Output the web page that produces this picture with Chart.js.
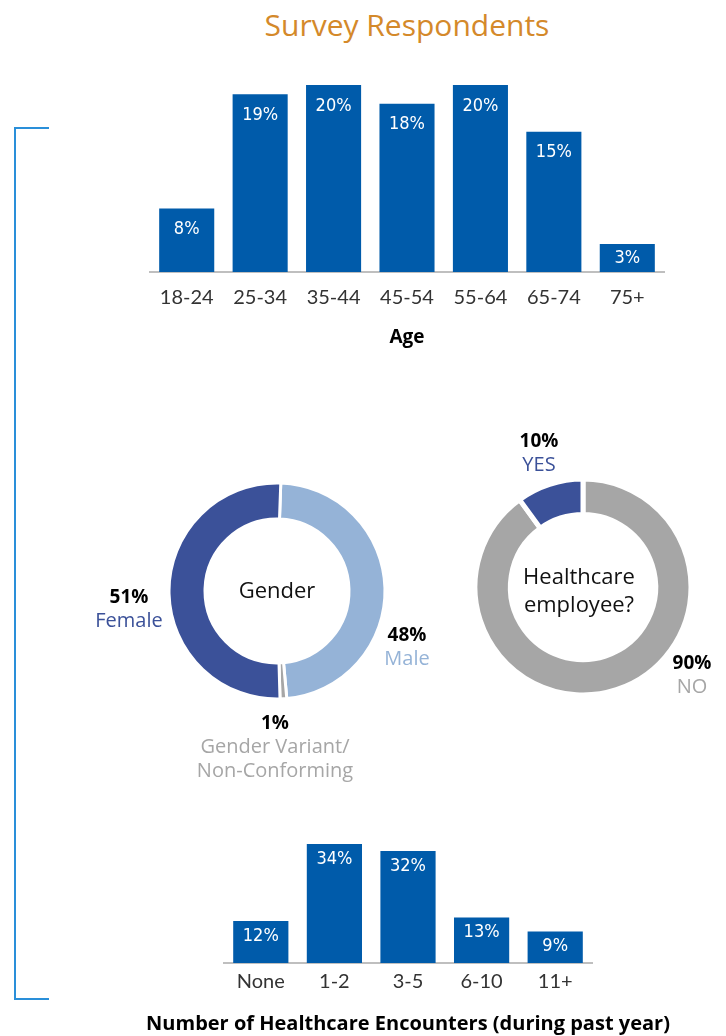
<!DOCTYPE html>
<html>
<head>
<meta charset="utf-8">
<script src="https://cdn.jsdelivr.net/npm/chart.js@4.4.1/dist/chart.umd.min.js"></script>
<style>
  body { margin: 0; background: #fff; }
  #page { position: relative; width: 726px; height: 1036px; overflow: hidden; font-family: "Open Sans", sans-serif; }
  .abs { position: absolute; }
  #title { left: 0; width: 814px; top: 4px; text-align: center; font-size: 30px; color: #D4892A; }
  #bracket { left: 14px; top: 127px; width: 33px; height: 869px; border: 2px solid #2A8FD9; border-right: none; }
  .lbl { text-align: center; font-size: 20px; line-height: 24px; white-space: nowrap; transform: translateX(-50%); }
  .lbl b { color: #000; font-weight: 700; font-size: 19px; }
  .center { text-align: center; font-size: 22px; line-height: 28px; color: #111; transform: translate(-50%, -50%); white-space: nowrap; }
</style>
</head>
<body>
<div id="page">
  <div id="title" class="abs">Survey Respondents</div>
  <div id="bracket" class="abs"></div>

  <canvas id="ageChart" class="abs" width="614" height="277" style="left:100px;top:75px"></canvas>
  <canvas id="genderChart" class="abs" width="240" height="240" style="left:157px;top:471px"></canvas>
  <canvas id="hcChart" class="abs" width="240" height="240" style="left:463px;top:467px"></canvas>
  <canvas id="encChart" class="abs" width="616" height="202" style="left:100px;top:834px"></canvas>

  <div class="center abs" style="left:277px;top:589px">Gender</div>
  <div class="center abs" style="left:579px;top:589px">Healthcare<br>employee?</div>

  <div id="lblFemale" class="lbl abs" style="left:129px;top:584px;line-height:23px;color:#3B5199"></div>
  <div id="lblMale" class="lbl abs" style="left:407px;top:622px;color:#95B3D7"></div>
  <div id="lblVariant" class="lbl abs" style="left:275px;top:710px;color:#A6A6A6"></div>
  <div id="lblYes" class="lbl abs" style="left:539px;top:428px;color:#3B5199"></div>
  <div id="lblNo" class="lbl abs" style="left:692px;top:650px;color:#A6A6A6"></div>
</div>

<script>
// Age distribution
const ageGroups = ['18-24', '25-34', '35-44', '45-54', '55-64', '65-74', '75+'];
const ageValues = [6.8, 19, 20, 18, 20, 15, 3];      // bar heights as drawn
const ageText   = ['8%', '19%', '20%', '18%', '20%', '15%', '3%'];

// Gender
const genderLabels = ['Male', 'Gender Variant/\nNon-Conforming', 'Female'];
const genderValues = [48, 1, 51];

// Healthcare employee?
const hcLabels = ['NO', 'YES'];
const hcValues = [90, 10];

// Healthcare encounters in past year
const encGroups = ['None', '1-2', '3-5', '6-10', '11+'];
const encValues = [12, 34, 32, 13, 9];

const BLUE = '#005BAA';

// white % labels near the top of each bar, plus an unclipped axis caption
const barText = {
  id: 'barText',
  afterDraw(chart, args, opts) {
    const ctx = chart.ctx;
    const meta = chart.getDatasetMeta(0);
    ctx.save();
    ctx.fillStyle = '#fff';
    ctx.font = '18px "Liberation Sans Narrow", "DejaVu Sans Condensed", sans-serif';
    ctx.textAlign = 'center';
    ctx.textBaseline = 'middle';
    meta.data.forEach((bar, i) => {
      const y = Math.min(bar.y + opts.offset, (bar.y + bar.base) / 2);
      ctx.fillText(opts.text[i], bar.x, y);
    });
    if (opts.caption) {
      ctx.fillStyle = '#000';
      ctx.font = opts.captionFont;
      ctx.fillText(opts.caption, chart.width / 2, chart.height - opts.captionBottom);
    }
    ctx.restore();
  }
};

function barChart(id, labels, values, text, maxY, offset, pad, axisH, tickPad, caption) {
  return new Chart(document.getElementById(id), {
    type: 'bar',
    data: {
      labels: labels,
      datasets: [{ data: values, backgroundColor: BLUE, barPercentage: 0.75, categoryPercentage: 1 }]
    },
    options: {
      responsive: false,
      animation: false,
      layout: { padding: pad },
      plugins: {
        legend: { display: false },
        tooltip: { enabled: false },
        barText: Object.assign({ text: text, offset: offset }, caption)
      },
      scales: {
        y: { display: false, min: 0, max: maxY },
        x: {
          grid: { display: false, drawTicks: false },
          border: { display: true, color: '#BFBFBF', width: 2 },
          ticks: { color: '#333', padding: tickPad, font: { family: 'Lato', size: 20 } },
          afterFit(scale) { scale.height = axisH; }
        }
      }
    },
    plugins: [barText]
  });
}

barChart('ageChart', ageGroups, ageValues, ageText, 20, 21,
  { left: 50, right: 50, top: 10, bottom: 0 }, 80, 14,
  { caption: 'Age', captionFont: 'bold 19px "Open Sans"', captionBottom: 14 });

barChart('encChart', encGroups, encValues, encValues.map(v => v + '%'), 34, 15,
  { left: 124, right: 124, top: 10, bottom: 0 }, 73, 7,
  { caption: 'Number of Healthcare Encounters (during past year)', captionFont: 'bold 20px "Open Sans"', captionBottom: 12 });

function donut(id, labels, values, colors, rotation, border) {
  return new Chart(document.getElementById(id), {
    type: 'doughnut',
    data: {
      labels: labels,
      datasets: [{ data: values, backgroundColor: colors, borderColor: '#fff', borderWidth: border }]
    },
    options: {
      responsive: false,
      animation: false,
      radius: 108,
      cutout: 79,
      rotation: rotation,
      plugins: { legend: { display: false }, tooltip: { enabled: false } }
    }
  });
}

donut('genderChart', genderLabels, genderValues, ['#95B3D7', '#A6A6A6', '#3B5199'], 2, 3);
donut('hcChart', hcLabels, hcValues, ['#A6A6A6', '#3B5199'], 0, 5);

// outside labels for the doughnuts
function setLabel(id, value, name) {
  document.getElementById(id).innerHTML = '<b>' + value + '%</b><br>' + name.replace('\n', '<br>');
}
setLabel('lblMale', genderValues[0], genderLabels[0]);
setLabel('lblVariant', genderValues[1], genderLabels[1]);
setLabel('lblFemale', genderValues[2], genderLabels[2]);
setLabel('lblNo', hcValues[0], hcLabels[0]);
setLabel('lblYes', hcValues[1], hcLabels[1]);
</script>
</body>
</html>
